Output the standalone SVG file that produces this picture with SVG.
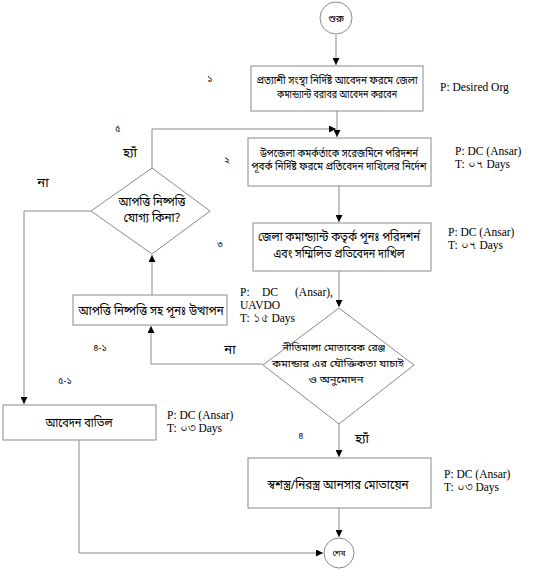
<svg xmlns="http://www.w3.org/2000/svg" width="543" height="576" viewBox="0 0 543 576">
<style>
.box{fill:#fff;stroke:#8a8a8a;stroke-width:1}
.ln{fill:none;stroke:#8a8a8a;stroke-width:1}
.bn{font-family:"Noto Sans Bengali","Noto Sans","DejaVu Sans",sans-serif;fill:#000;text-anchor:middle}
.en{font-family:"Liberation Serif",serif;font-size:11.5px;fill:#000}
.lb{font-family:"Noto Sans Bengali","Noto Sans","DejaVu Sans",sans-serif;font-size:9px;fill:#000;text-anchor:middle}
</style>
<defs>
<marker id="ar" viewBox="0 0 10 10" refX="10" refY="5" markerWidth="7" markerHeight="7" orient="auto" markerUnits="userSpaceOnUse">
<path d="M0,0 L10,5 L0,10 z" fill="#000"/>
</marker>
</defs>
<rect width="543" height="576" fill="#fff"/>
<g id="connectors">
<path class="ln" d="M336,35 V65" marker-end="url(#ar)"/>
<path class="ln" d="M337,111 V137" marker-end="url(#ar)"/>
<path class="ln" d="M152,168 V129 H336" marker-end="url(#ar)"/>
<path class="ln" d="M339,186 V222" marker-end="url(#ar)"/>
<path class="ln" d="M339,271 V307" marker-end="url(#ar)"/>
<path class="ln" d="M91,211 H24 V404" marker-end="url(#ar)"/>
<path class="ln" d="M152,295 V255" marker-end="url(#ar)"/>
<path class="ln" d="M263,364 H151 V326" marker-end="url(#ar)"/>
<path class="ln" d="M339,424 V457" marker-end="url(#ar)"/>
<path class="ln" d="M339,508 V537" marker-end="url(#ar)"/>
<path class="ln" d="M79,440 V553 H323" marker-end="url(#ar)"/>
</g>
<g id="start">
<circle cx="336" cy="18" r="16" fill="#fff" stroke="#8a8a8a"/>
<text class="bn" x="336" y="22" font-size="10">শুরু</text>
</g>
<g id="box1">
<rect class="box" x="251" y="66" width="172" height="45"/>
<text class="bn" x="337" y="84" font-size="11" textLength="161" lengthAdjust="spacingAndGlyphs">প্রত্যাশী সংস্থা নির্দিষ্ট আবেদন ফরমে জেলা</text>
<text class="bn" x="337" y="98" font-size="11" textLength="120" lengthAdjust="spacingAndGlyphs">কমান্ড্যান্ট বরাবর আবেদন করবেন</text>
</g>
<g id="box2">
<rect class="box" x="248" y="138" width="183" height="48"/>
<text class="bn" x="339" y="157" font-size="11" textLength="158" lengthAdjust="spacingAndGlyphs">উপজেলা কমর্কর্তাকে সরেজমিনে পরিদশর্ন</text>
<text class="bn" x="339" y="170" font-size="11" textLength="175" lengthAdjust="spacingAndGlyphs">পূবর্ক নির্দিষ্ট ফরমে প্রতিবেদন দাখিলের নির্দেশ</text>
</g>
<g id="box3">
<rect class="box" x="253" y="223" width="178" height="48"/>
<text class="bn" x="339" y="241" font-size="12" textLength="162" lengthAdjust="spacingAndGlyphs">জেলা কমান্ড্যান্ট কতৃর্ক পূনঃ পরিদশর্ন</text>
<text class="bn" x="339" y="258" font-size="12" textLength="131" lengthAdjust="spacingAndGlyphs">এবং সম্মিলিত প্রতিবেদন দাখিল</text>
</g>
<g id="decision1">
<polygon class="box" points="152,168 210,211 152,254 91,211"/>
<text class="bn" x="152" y="206" font-size="12" textLength="67" lengthAdjust="spacingAndGlyphs">আপত্তি নিষ্পত্তি</text>
<text class="bn" x="152" y="222" font-size="12" textLength="57" lengthAdjust="spacingAndGlyphs">যোগ্য কিনা?</text>
</g>
<g id="box5">
<rect class="box" x="73" y="295" width="154" height="30"/>
<text class="bn" x="151" y="315" font-size="13" textLength="145" lengthAdjust="spacingAndGlyphs">আপত্তি নিষ্পত্তি সহ পূনঃ উত্থাপন</text>
</g>
<g id="decision2">
<polygon class="box" points="339,308 414,365 339,424 263,365"/>
<text class="bn" x="334" y="351" font-size="10" textLength="103" lengthAdjust="spacingAndGlyphs">নীতিমালা মোতাবেক রেঞ্জ</text>
<text class="bn" x="338" y="367" font-size="10" textLength="132" lengthAdjust="spacingAndGlyphs">কমান্ডার এর যৌক্তিকতা যাচাই</text>
<text class="bn" x="336" y="383" font-size="10" textLength="55" lengthAdjust="spacingAndGlyphs">ও অনুমোদন</text>
</g>
<g id="box4">
<rect class="box" x="3" y="405" width="153" height="35"/>
<text class="bn" x="79" y="427" font-size="13" textLength="67" lengthAdjust="spacingAndGlyphs">আবেদন বাতিল</text>
</g>
<g id="box6">
<rect class="box" x="248" y="458" width="183" height="50"/>
<text class="bn" x="338" y="489" font-size="13" textLength="141" lengthAdjust="spacingAndGlyphs">স্বশস্ত্র/নিরস্ত্র আনসার মোতায়েন</text>
</g>
<g id="end">
<circle cx="339" cy="553" r="15" fill="#fff" stroke="#8a8a8a"/>
<text class="bn" x="339" y="556" font-size="8">শেষ</text>
</g>
<g id="labels">
<text class="lb" x="210" y="82">১</text>
<text class="lb" x="227" y="163">২</text>
<text class="lb" x="220" y="247">৩</text>
<text class="lb" x="301" y="439">৪</text>
<text class="lb" x="118" y="132">৫</text>
<text class="lb" x="100" y="351">৪-১</text>
<text class="lb" x="65" y="384">৫-১</text>
<text class="bn" x="130" y="157" font-size="13">হ্যাঁ</text>
<text class="bn" x="362" y="443" font-size="13">হ্যাঁ</text>
<text class="bn" x="43" y="187" font-size="13">না</text>
<text class="bn" x="230" y="354" font-size="13">না</text>
<text class="en" x="440" y="91">P: Desired Org</text>
<text class="en" x="455" y="155">P: DC (Ansar)</text>
<text class="en" x="455" y="168">T: ০৭ Days</text>
<text class="en" x="448" y="236">P: DC (Ansar)</text>
<text class="en" x="448" y="249">T: ০৭ Days</text>
<text class="en" x="240" y="296">P:</text>
<text class="en" x="262" y="296">DC</text>
<text class="en" x="295" y="296">(Ansar),</text>
<text class="en" x="240" y="309">UAVDO</text>
<text class="en" x="240" y="322">T: ১৫ Days</text>
<text class="en" x="167" y="419">P: DC (Ansar)</text>
<text class="en" x="167" y="432">T: ০৩ Days</text>
<text class="en" x="444" y="478">P: DC (Ansar)</text>
<text class="en" x="444" y="491">T: ০৩ Days</text>
</g>
</svg>
